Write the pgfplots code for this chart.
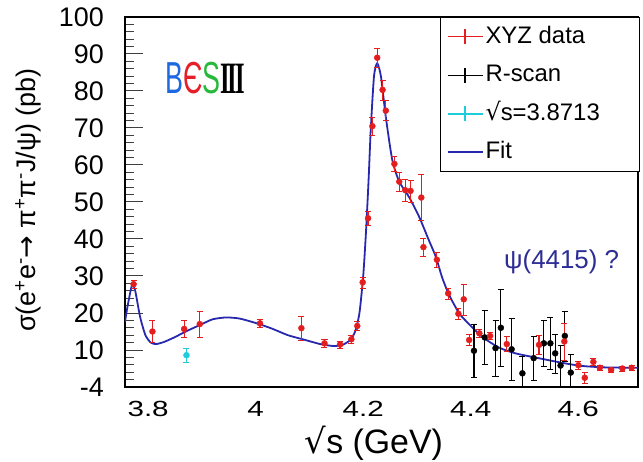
\documentclass[border=0pt]{standalone}
\usepackage{fontspec}
\setmainfont{Liberation Sans}
\newfontfamily\dejavu{DejaVu Sans}
\newfontfamily\serifIII{Liberation Serif}
\usepackage{graphicx}
\usepackage{pgfplots}
\usepackage{pgfplotstable}
\pgfplotsset{compat=1.18}
\definecolor{xyzred}{RGB}{228,30,30}
\definecolor{fitblue}{RGB}{40,40,175}
\definecolor{cyancol}{RGB}{30,205,220}
\definecolor{psiblue}{RGB}{45,45,150}
\definecolor{besblue}{RGB}{30,105,225}
\definecolor{besred}{RGB}{230,30,40}
\definecolor{besgreen}{RGB}{40,185,60}
\pgfplotsset{
  errleg/.style={legend image code/.code={\draw[##1] (0bp,0bp) -- (35bp,0bp); \draw[##1] (17.5bp,-7.5bp) -- (17.5bp,7.5bp);}},
  lineleg/.style={legend image code/.code={\draw[##1] (0bp,0bp) -- (35bp,0bp);}}
}
\pgfplotstableread{
x y e
3.773 27.8 1.0
3.808 15.0 3.0
3.867 15.7 2.3
3.896 17.0 3.6
4.008 17.2 1.0
4.085 15.9 3.2
4.128 11.8 1.0
4.157 11.5 1.0
4.178 12.9 1.0
4.189 16.5 1.2
4.199 28.3 1.5
4.209 45.6 2.0
4.217 70.5 2.5
4.226 89.0 2.5
4.236 80.3 2.7
4.242 74.7 2.7
4.258 60.3 2.0
4.267 55.5 2.5
4.278 53.2 3.0
4.288 53.0 3.0
4.308 51.2 6.2
4.312 37.8 2.5
4.337 34.4 2.0
4.358 25.3 1.5
4.377 19.8 1.5
4.387 23.7 4.2
4.397 12.7 1.5
4.416 14.5 1.0
4.436 13.8 1.0
4.467 11.6 2.0
4.527 11.4 2.5
4.574 12.3 5.0
4.600 5.9 1.0
4.612 2.5 1.5
4.628 6.8 1.0
4.640 5.2 0.6
4.661 4.6 0.6
4.682 5.0 0.6
4.699 5.2 0.6
}\xyztab
\pgfplotstableread{
x y e
4.406 9.8 7.1
4.426 13.4 7.3
4.446 10.5 7.6
4.456 16.0 10.5
4.476 10.2 8.4
4.496 3.7 4.5
4.517 7.8 6.0
4.536 11.8 6.3
4.548 11.8 7.1
4.557 9.1 5.3
4.567 5.8 5.5
4.575 13.8 6.8
4.586 3.9 5.0
}\rscantab
\pgfplotstableread{
x y e
3.8713 8.6 1.8
}\cyantab
\pgfplotstableread{
x y
3.757 17.6
3.762 22.0
3.770 27.5
3.776 26.0
3.785 19.0
3.795 14.0
3.805 12.0
3.815 11.6
3.830 12.2
3.850 13.5
3.870 15.0
3.900 17.0
3.920 18.3
3.945 18.8
3.970 18.5
4.000 17.3
4.030 15.8
4.060 14.0
4.090 12.8
4.120 11.6
4.143 11.1
4.160 11.3
4.175 12.6
4.185 15.0
4.193 20.0
4.200 30.0
4.205 41.5
4.210 56.0
4.214 69.5
4.220 83.9
4.226 87.5
4.233 83.9
4.242 73.0
4.254 61.4
4.267 55.5
4.285 51.4
4.304 46.0
4.322 39.7
4.335 35.2
4.347 29.5
4.360 24.8
4.378 20.0
4.390 18.0
4.421 13.6
4.452 10.7
4.483 9.1
4.526 7.8
4.575 6.4
4.606 5.7
4.649 5.3
4.711 5.2
}\fittab
\begin{document}
\begin{tikzpicture}
\begin{axis}[
  name=ax,
  width=513bp, height=370bp, scale only axis,
  xmin=3.757, xmax=4.711, ymin=0, ymax=100,
  axis line style={line width=1.3bp},
  xtick={3.8,4.0,4.2,4.4,4.6},
  xticklabels={\scalebox{1.35}[1]{3.8},\scalebox{1.35}[1]{4},\scalebox{1.35}[1]{4.2},\scalebox{1.35}[1]{4.4},\scalebox{1.35}[1]{4.6}},
  ytick={0,10,...,100}, yticklabels={-4,10,20,30,40,50,60,70,80,90,100},
  minor y tick num=4,
  tick align=inside, ytick pos=left, xtick pos=bottom,
  xtick style={draw=none},
  ytick style={black!75, line width=1bp},
  major tick length=18bp, minor tick length=9bp,
  /pgf/number format/assume math mode=true,
  yticklabel style={font=\fontsize{27}{30}\selectfont, inner sep=0pt, anchor=east, xshift=-21bp},
  xticklabel style={font=\fontsize{22}{26}\selectfont, inner sep=0pt, anchor=north, yshift=-14bp},
  xlabel={{\dejavu √}s (GeV)},
  xlabel style={at={(axis description cs:0.485,-0.105)}, anchor=north, inner sep=0pt, font=\fontsize{34}{38}\selectfont},
  ylabel={σ(e\textsuperscript{+}e\textsuperscript{-}{\dejavu →} π\textsuperscript{+}π\textsuperscript{-}J/ψ) (pb)},
  ylabel style={at={(axis description cs:-0.189,0.505)}, anchor=center, inner sep=0pt, font=\fontsize{27}{30}\selectfont},
  legend style={at={(axis description cs:1.004,1)}, anchor=north east, draw=black, line width=1bp, fill=white,
    font=\fontsize{24}{28}\selectfont, inner xsep=6bp, inner ysep=5.75bp, row sep=11.5bp,
    nodes={inner sep=2bp, text height=18bp, text depth=5bp},
    /tikz/every even column/.append style={column sep=6bp}},
  legend cell align=left,
]
\addlegendimage{errleg, xyzred, line width=1.3bp}
\addlegendentry{\makebox[146bp][l]{XYZ data}}
\addlegendimage{errleg, black, line width=1.3bp}
\addlegendentry{\makebox[146bp][l]{R-scan}}
\addlegendimage{errleg, draw=cyancol, line width=2bp}
\addlegendentry{\makebox[146bp][l]{{\dejavu √}s=3.8713}}
\addlegendimage{lineleg, fitblue, line width=1.5bp}
\addlegendentry{\makebox[146bp][l]{Fit}}

\addplot[fitblue, line width=1.8bp, smooth, tension=0.4, forget plot] table[x=x,y=y]{\fittab};
\addplot[only marks, mark=*, mark size=3bp, color=black, forget plot,
  error bars/.cd, y dir=both, y explicit, error bar style={line width=1.2bp, black}]
  table[x=x,y=y,y error=e]{\rscantab};
\addplot[only marks, mark=*, mark size=3bp, color=xyzred, forget plot,
  error bars/.cd, y dir=both, y explicit, error bar style={line width=1.2bp, xyzred}]
  table[x=x,y=y,y error=e]{\xyztab};
\addplot[only marks, mark=*, mark size=3bp, color=cyancol, forget plot,
  error bars/.cd, y dir=both, y explicit, error bar style={line width=1.2bp, cyancol}]
  table[x=x,y=y,y error=e]{\cyantab};

\node[inner sep=0pt] at (axis cs:3.906,83.5) {\fontsize{45}{45}\selectfont\scalebox{0.6}[1]{\textcolor{besblue}{B}\textcolor{besred}{Є}\textcolor{besgreen}{S}}\scalebox{0.55}[1]{\serifIII\bfseries I\kern-0.08em I\kern-0.08em I}};
\node[text=psiblue, font=\fontsize{26}{30}\selectfont] at (axis cs:4.569,33.9) {ψ(4415) ?};
\end{axis}
\pgfresetboundingbox
\path[use as bounding box] ([xshift=-125bp,yshift=-75bp]ax.south west) rectangle ([xshift=5bp,yshift=17bp]ax.north east);
\end{tikzpicture}
\end{document}
